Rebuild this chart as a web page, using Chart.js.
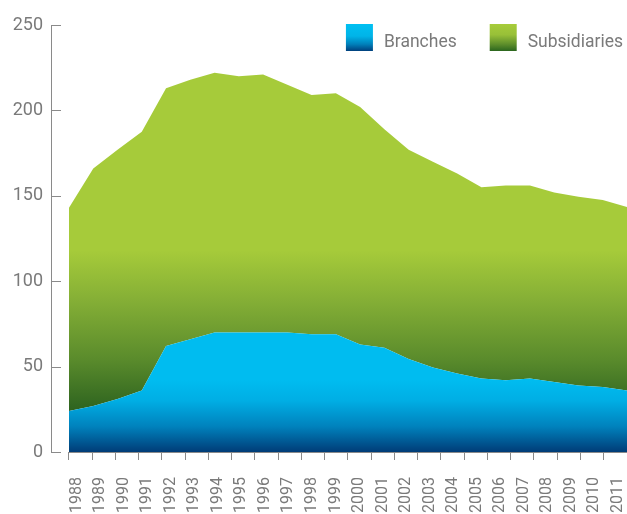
<!DOCTYPE html>
<html>
<head>
<meta charset="utf-8">
<title>Branches and subsidiaries, 1988–2011</title>
<script src="https://cdn.jsdelivr.net/npm/chart.js@4.4.1/dist/chart.umd.min.js"></script>
<style>
  html, body { margin: 0; padding: 0; background: #ffffff; }
  #wrap { width: 627px; height: 514px; position: relative; }
</style>
</head>
<body>
<div id="wrap"><canvas id="chart"></canvas></div>
<script>
// Number of foreign bank offices by legal form (stacked)
const years = [1988, 1989, 1990, 1991, 1992, 1993, 1994, 1995, 1996, 1997, 1998, 1999,
               2000, 2001, 2002, 2003, 2004, 2005, 2006, 2007, 2008, 2009, 2010, 2011];
const branches = [24, 27, 31, 36, 62, 66, 70, 70, 70, 70, 69, 69,
                  63, 61, 54.5, 49.5, 46, 43, 42, 43, 41, 39, 38, 36];
const subsidiaries = [119, 139, 146, 151.5, 151, 152, 152, 150, 151, 145, 140, 141,
                      139, 128, 122.5, 120.5, 117, 112, 114, 113, 111, 110.5, 109.5, 107.5];
const seriesNames = ['Branches', 'Subsidiaries'];
const yTicks = [0, 50, 100, 150, 200, 250];

const TEXT = '#7a7a7a';
const AXIS = '#8a8a8a';
Chart.defaults.font.family = 'Roboto, "Liberation Sans", sans-serif';
Chart.defaults.color = TEXT;

// vertical gradient whose stops are given in data units of the y scale
function valueGradient(chart, stops, fallback) {
  const y = chart.scales.y;
  if (!chart.chartArea || !y) return fallback;
  const top = y.getPixelForValue(stops[0][0]);
  const bot = y.getPixelForValue(stops[stops.length - 1][0]);
  const g = chart.ctx.createLinearGradient(0, top, 0, bot);
  stops.forEach(([v, c]) => g.addColorStop((y.getPixelForValue(v) - top) / (bot - top), c));
  return g;
}
const blueStops = [[42, '#00bcf0'], [30, '#00aee4'], [15, '#0082bd'], [0, '#003c77']];
const greenStops = [[118, '#a6cb3a'], [90, '#86b036'], [55, '#5b8c2c'], [22, '#2a601e']];

// short tick marks pointing into the plot, plus the x baseline
const axisMarks = {
  id: 'axisMarks',
  afterDraw(chart) {
    const { ctx } = chart;
    const y = chart.scales.y, xt = chart.scales.xt;
    ctx.save();
    ctx.strokeStyle = AXIS;
    ctx.lineWidth = 1;
    ctx.beginPath();
    y.ticks.forEach(t => {
      const py = Math.round(y.getPixelForValue(t.value)) + 0.5;
      ctx.moveTo(y.right, py);
      ctx.lineTo(y.right + 10, py);
    });
    const by = Math.round(xt.top) + 0.5;
    ctx.moveTo(xt.getPixelForValue(0), by);
    ctx.lineTo(chart.chartArea.right, by);
    ctx.stroke();
    ctx.restore();
  }
};

// legend with gradient swatches, right-aligned at the top
const swatchLegend = {
  id: 'swatchLegend',
  afterDraw(chart) {
    const { ctx, chartArea } = chart;
    const box = 27, gap = 11, itemGap = 33, top = 24, baseline = 46.5;
    const swatches = [
      [[0, '#00c0f2'], [0.45, '#00b4e8'], [0.75, '#0080ba'], [1, '#00407d']],
      [[0, '#a7cc3a'], [0.4, '#98c038'], [0.75, '#5d8e2b'], [1, '#2b661e']]
    ];
    ctx.save();
    ctx.font = '17.5px Roboto, "Liberation Sans", sans-serif';
    ctx.textBaseline = 'alphabetic';
    ctx.textAlign = 'left';
    let right = chartArea.right - 4;
    for (let i = seriesNames.length - 1; i >= 0; i--) {
      const w = ctx.measureText(seriesNames[i]).width;
      const tx = right - w;
      const bx = tx - gap - box;
      const g = ctx.createLinearGradient(0, top, 0, top + box);
      swatches[i].forEach(([o, c]) => g.addColorStop(o, c));
      ctx.fillStyle = g;
      ctx.fillRect(bx, top, box, box);
      ctx.fillStyle = TEXT;
      ctx.fillText(seriesNames[i], tx, baseline);
      right = bx - itemGap;
    }
    ctx.restore();
  }
};

new Chart(document.getElementById('chart'), {
  type: 'line',
  data: {
    labels: years,
    datasets: [
      {
        label: seriesNames[0],
        data: branches,
        fill: 'origin',
        backgroundColor: c => valueGradient(c.chart, blueStops, '#00bcf0'),
        borderWidth: 0,
        pointRadius: 0,
        tension: 0
      },
      {
        label: seriesNames[1],
        data: subsidiaries,
        fill: '-1',
        backgroundColor: c => valueGradient(c.chart, greenStops, '#a6cb3a'),
        borderWidth: 0,
        pointRadius: 0,
        tension: 0
      }
    ]
  },
  options: {
    responsive: true,
    maintainAspectRatio: false,
    animation: false,
    layout: { padding: { top: 25, left: 12, right: 0, bottom: 0 } },
    plugins: { legend: { display: false }, tooltip: { enabled: false } },
    scales: {
      x: {
        type: 'linear',
        min: years[0] - 0.742,
        max: years[years.length - 1],
        display: false
      },
      xt: {
        type: 'linear',
        position: 'bottom',
        weight: 0,
        min: -0.774,
        max: years.length,
        afterBuildTicks: s => { s.ticks = years.concat([0]).map((_, i) => ({ value: i })); },
        afterFit: s => { s.height = 8; s.paddingLeft = 0; s.paddingRight = 0; },
        ticks: { display: false },
        grid: { drawOnChartArea: false, tickLength: 8, color: AXIS, lineWidth: 1 },
        border: { display: false }
      },
      xl: {
        type: 'linear',
        position: 'bottom',
        weight: 1,
        min: years[0] - 1.092,
        max: years[years.length - 1] + 0.388,
        afterBuildTicks: s => { s.ticks = years.map(v => ({ value: v })); },
        afterFit: s => { s.height = 54; s.paddingLeft = 0; s.paddingRight = 0; },
        ticks: {
          minRotation: 90, maxRotation: 90, autoSkip: false, padding: 9,
          font: { size: 16 }, color: TEXT,
          callback: v => String(v)
        },
        grid: { display: false },
        border: { display: false }
      },
      y: {
        stacked: true,
        min: 0,
        max: 250,
        afterBuildTicks: s => { s.ticks = yTicks.map(v => ({ value: v })); },
        afterFit: s => { s.width = 39; },
        ticks: { padding: 8, font: { size: 18 }, color: TEXT },
        grid: { drawOnChartArea: false, drawTicks: false },
        border: { display: true, color: AXIS, width: 1 }
      }
    }
  },
  plugins: [axisMarks, swatchLegend]
});
</script>
</body>
</html>
